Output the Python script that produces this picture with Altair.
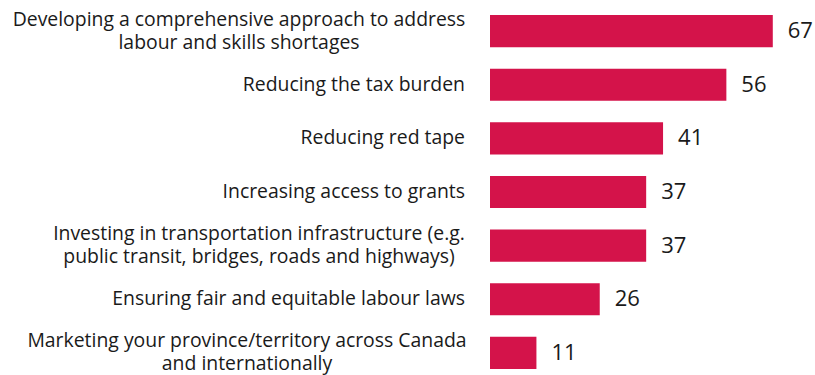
import altair as alt
import pandas as pd

labels = [
    "Developing a comprehensive approach to address\nlabour and skills shortages",
    "Reducing the tax burden",
    "Reducing red tape",
    "Increasing access to grants",
    "Investing in transportation infrastructure (e.g.\npublic transit, bridges, roads and highways)",
    "Ensuring fair and equitable labour laws",
    "Marketing your province/territory across Canada\nand internationally",
]
values = [67, 56, 41, 37, 37, 26, 11]

# layout: half width (px) of the first line of each wrapped label, so the
# wrapped block is centred like the reference while its longest line ends at
# the common right edge
LABEL_RIGHT = -25
wrap_half = {0: 226, 4: 206, 6: 218}

df = pd.DataFrame({"label": labels, "value": values})
df["wrapped"] = df["label"].str.contains("\n")
df["cx"] = [LABEL_RIGHT - wrap_half.get(i, 0) for i in range(len(df))]

FONT = "Open Sans"
FS = 19.4
TXT = "#1a1a1a"
y = alt.Y("label:N", sort=None, axis=None,
          scale=alt.Scale(paddingInner=0.4, paddingOuter=0))

base = alt.Chart(df)

bars = base.mark_bar(color="#D4134A").encode(
    x=alt.X("value:Q", axis=None, scale=alt.Scale(domain=[0, 77], nice=False)),
    y=y,
)

vals = base.mark_text(align="left", baseline="middle", dx=15, fontSize=22,
                      font=FONT, color=TXT).encode(
    x="value:Q", y=y, text="value:Q")

labs1 = base.transform_filter("!datum.wrapped").mark_text(
    align="right", baseline="middle", fontSize=FS, font=FONT, color=TXT
).encode(x=alt.value(LABEL_RIGHT), y=y, text="label:N")

labs2 = base.transform_filter("datum.wrapped").mark_text(
    align="center", baseline="middle", lineBreak="\n", fontSize=FS,
    lineHeight=23, dy=-11.5, font=FONT, color=TXT
).encode(x=alt.X("cx:Q", scale=None), y=y, text="label:N")

chart = alt.layer(bars, vals, labs1, labs2).properties(
    width=325, height=354,
    autosize=alt.AutoSizeParams(type="none"),
    padding={"left": 490, "top": 15, "right": 0, "bottom": 6},
).configure_view(stroke=None)

chart.save("out.html", embed_options={"renderer": "svg", "actions": False})
